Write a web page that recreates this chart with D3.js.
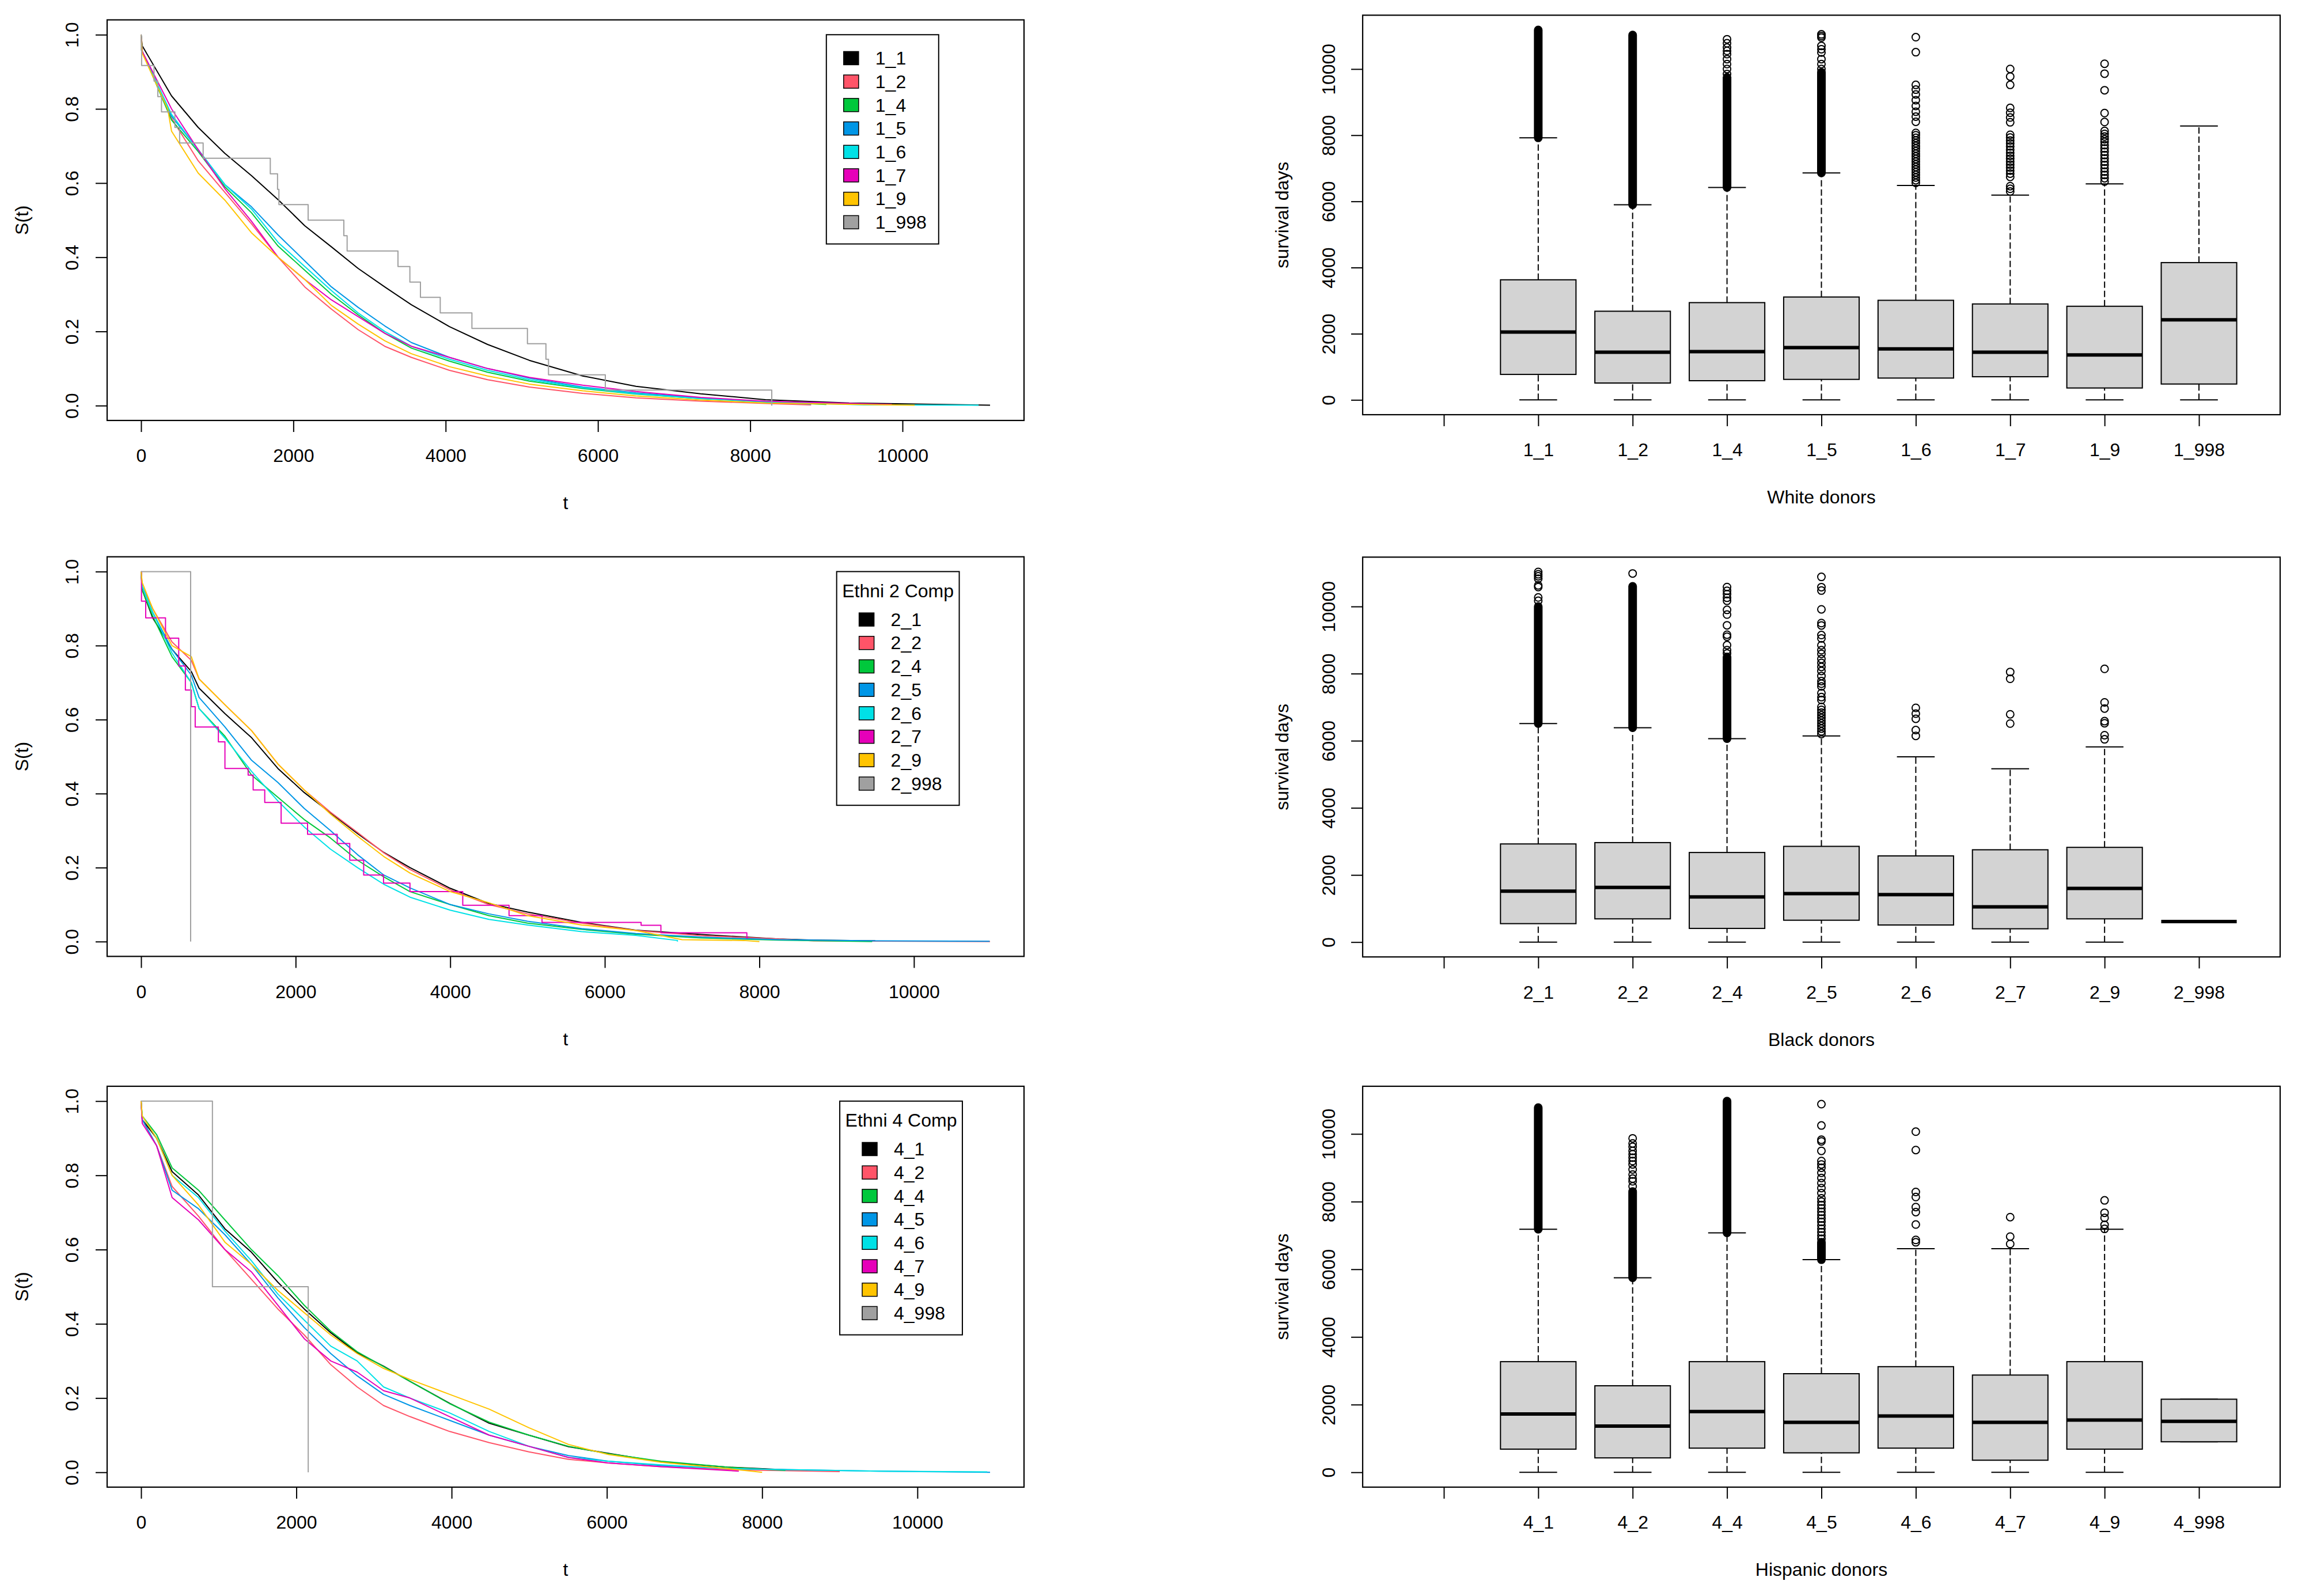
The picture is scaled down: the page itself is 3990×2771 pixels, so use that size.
<!DOCTYPE html>
<html>
<head>
	<meta charset="UTF-8">
	<script src="https://d3js.org/d3.v7.min.js"></script>
	<title>Donor survival by ethnicity</title>
	<style>
		body { margin: 0; background: #fff; }
		svg { display: block; }
	</style>
</head>
<body>
	<svg></svg>
	<script type="text/javascript">

		const width = 3990;
		const height = 2771;
		const font = '"Liberation Sans", Arial, Helvetica, sans-serif';

		const palette = ["#000000", "#FF5468", "#00C83C", "#0096E6", "#00E1E6", "#E600B9", "#FFC400", "#A0A0A0"];

		const kmTicksX = [0, 2000, 4000, 6000, 8000, 10000];
		const kmTicksY = [0, 0.2, 0.4, 0.6, 0.8, 1.0];
		const boxTicksY = [0, 2000, 4000, 6000, 8000, 10000];

		// ---- Kaplan-Meier curves, [t, S(t)] ----
		const whiteGroups = ["1_1", "1_2", "1_4", "1_5", "1_6", "1_7", "1_9", "1_998"];
		const kmWhite = [
			[[0,1],[15,0.97],[400,0.835],[750,0.75],[1100,0.68],[1450,0.62],[1800,0.555],[2150,0.485],[2500,0.428],[2850,0.37],[3200,0.32],[3550,0.272],[4050,0.213],[4550,0.165],[5100,0.122],[5800,0.08],[6500,0.052],[7350,0.032],[8200,0.016],[9300,0.007],[11150,0.001]],
			[[0,1],[15,0.955],[400,0.775],[750,0.66],[1100,0.575],[1450,0.49],[1800,0.40],[2150,0.32],[2500,0.26],[2850,0.205],[3200,0.16],[3550,0.13],[4050,0.095],[4550,0.07],[5100,0.05],[5800,0.033],[6500,0.021],[7350,0.012],[8200,0.006],[8800,0.002]],
			[[0,1],[15,0.955],[400,0.77],[750,0.685],[1100,0.59],[1450,0.52],[1800,0.43],[2150,0.365],[2500,0.30],[2850,0.245],[3200,0.195],[3550,0.155],[4050,0.12],[4550,0.09],[5100,0.066],[5800,0.046],[6500,0.031],[7350,0.019],[8200,0.01],[9000,0.003]],
			[[0,1],[15,0.955],[400,0.78],[750,0.69],[1100,0.596],[1450,0.536],[1800,0.46],[2150,0.39],[2500,0.32],[2850,0.265],[3200,0.215],[3550,0.17],[4050,0.13],[4550,0.10],[5100,0.074],[5800,0.05],[6500,0.034],[7350,0.021],[8200,0.011],[8800,0.004]],
			[[0,1],[15,0.955],[400,0.785],[750,0.69],[1100,0.596],[1450,0.53],[1800,0.44],[2150,0.375],[2500,0.31],[2850,0.25],[3200,0.20],[3550,0.16],[4050,0.125],[4550,0.095],[5100,0.07],[5800,0.048],[6500,0.032],[7350,0.019],[8200,0.01],[9500,0.002],[11000,0.001]],
			[[0,1],[15,0.955],[400,0.80],[750,0.69],[1100,0.585],[1450,0.497],[1800,0.40],[2150,0.34],[2500,0.285],[2850,0.24],[3200,0.195],[3550,0.16],[4050,0.13],[4550,0.10],[5100,0.076],[5800,0.055],[6500,0.038],[7350,0.022],[8200,0.012],[9860,0.003]],
			[[0,1],[15,0.95],[350,0.80],[400,0.74],[750,0.627],[1100,0.554],[1450,0.466],[1800,0.40],[2150,0.34],[2500,0.27],[2850,0.22],[3200,0.175],[3550,0.14],[4050,0.105],[4550,0.08],[5100,0.058],[5800,0.04],[6500,0.026],[7350,0.015],[8200,0.007],[10160,0.001]],
			[[0,1],[2,0.958],[7,0.917],[170,0.875],[220,0.833],[268,0.792],[444,0.75],[506,0.708],[815,0.667],[1697,0.625],[1792,0.583],[1810,0.542],[2194,0.5],[2663,0.458],[2706,0.417],[3374,0.375],[3530,0.333],[3669,0.292],[3929,0.25],[4345,0.208],[5074,0.167],[5317,0.125],[5351,0.083],[6097,0.042],[8283,0]]
		];
		const kmWhiteStep = [7];

		const blackGroups = ["2_1", "2_2", "2_4", "2_5", "2_6", "2_7", "2_9", "2_998"];
		const kmBlack = [
			[[0,1],[15,0.95],[150,0.875],[400,0.79],[650,0.73],[750,0.685],[1085,0.616],[1430,0.551],[1770,0.468],[2110,0.403],[2450,0.348],[2800,0.292],[3140,0.241],[3480,0.2],[4000,0.144],[4500,0.103],[5000,0.08],[5700,0.052],[6400,0.031],[7250,0.019],[8250,0.007],[8700,0.004],[9500,0.002]],
			[[0,1],[15,0.96],[150,0.9],[400,0.81],[650,0.76],[750,0.71],[1085,0.64],[1430,0.57],[1770,0.48],[2110,0.41],[2450,0.35],[2800,0.295],[3140,0.24],[3480,0.195],[4000,0.14],[4500,0.1],[5000,0.075],[5700,0.05],[6400,0.03],[7250,0.016],[8250,0.007],[8700,0.002],[10985,0.0]],
			[[0,1],[15,0.95],[150,0.88],[400,0.77],[650,0.70],[750,0.63],[1085,0.555],[1430,0.45],[1770,0.39],[2110,0.33],[2450,0.28],[2800,0.22],[3140,0.175],[3480,0.135],[4000,0.10],[4500,0.07],[5000,0.05],[5700,0.033],[6400,0.02],[7250,0.01],[8250,0.004],[9460,0.0]],
			[[0,1],[15,0.96],[150,0.89],[400,0.79],[650,0.72],[750,0.66],[1085,0.58],[1430,0.49],[1770,0.43],[2110,0.36],[2450,0.30],[2800,0.235],[3140,0.18],[3480,0.145],[4000,0.10],[4500,0.075],[5000,0.055],[5700,0.035],[6400,0.022],[7250,0.012],[8250,0.005],[9500,0.002],[10980,0.001]],
			[[0,1],[15,0.96],[150,0.89],[400,0.78],[650,0.70],[750,0.63],[1085,0.55],[1430,0.46],[1770,0.38],[2110,0.31],[2450,0.25],[2800,0.20],[3140,0.155],[3480,0.12],[4000,0.085],[4500,0.06],[5000,0.045],[5700,0.027],[6400,0.017],[6940,0.003],[6940,0]],
			[[0,1],[5,0.92],[60,0.875],[316,0.82],[487,0.745],[573,0.68],[650,0.635],[700,0.58],[1000,0.54],[1085,0.468],[1385,0.45],[1450,0.41],[1600,0.376],[1812,0.32],[2154,0.29],[2538,0.265],[2700,0.22],[2880,0.18],[3137,0.158],[3479,0.135],[4162,0.098],[4761,0.07],[5188,0.052],[6470,0.044],[6726,0.024],[7838,0.01],[7850,0.01]],
			[[0,1],[15,0.97],[150,0.9],[400,0.8],[650,0.77],[750,0.71],[1085,0.64],[1430,0.57],[1770,0.48],[2110,0.41],[2450,0.345],[2800,0.285],[3140,0.23],[3480,0.185],[4000,0.135],[4500,0.105],[5000,0.07],[5700,0.045],[6400,0.03],[7000,0.005],[7800,0.003],[8000,0]],
			[[0,1],[641,0]]
		];
		const kmBlackStep = [5, 7];

		const hispGroups = ["4_1", "4_2", "4_4", "4_5", "4_6", "4_7", "4_9", "4_998"];
		const kmHisp = [
			[[0,1],[15,0.95],[200,0.9],[400,0.81],[740,0.747],[1080,0.656],[1421,0.593],[1762,0.512],[2102,0.44],[2443,0.376],[2783,0.322],[3123,0.286],[3464,0.245],[3974,0.186],[4485,0.132],[4996,0.1],[5506,0.069],[6017,0.051],[6698,0.028],[7549,0.014],[8485,0.005]],
			[[0,1],[15,0.95],[200,0.88],[400,0.77],[740,0.69],[1080,0.6],[1421,0.52],[1762,0.44],[2102,0.37],[2443,0.29],[2783,0.23],[3123,0.18],[3464,0.15],[3974,0.11],[4485,0.08],[4996,0.055],[5506,0.035],[6017,0.025],[6698,0.015],[7549,0.007],[9000,0.002]],
			[[0,1],[15,0.96],[200,0.91],[400,0.82],[740,0.76],[1080,0.68],[1421,0.6],[1762,0.53],[2102,0.45],[2443,0.38],[2783,0.325],[3123,0.285],[3464,0.245],[3974,0.185],[4485,0.135],[4996,0.1],[5506,0.07],[6017,0.05],[6698,0.03],[7549,0.014],[8300,0.005]],
			[[0,1],[15,0.95],[200,0.88],[400,0.76],[740,0.71],[1080,0.64],[1421,0.56],[1762,0.47],[2102,0.39],[2443,0.32],[2783,0.26],[3123,0.21],[3464,0.18],[3974,0.14],[4485,0.1],[4996,0.07],[5506,0.045],[6017,0.03],[6698,0.018],[7549,0.01],[9500,0.003],[10936,0.0]],
			[[0,1],[15,0.96],[200,0.9],[400,0.8],[740,0.74],[1080,0.65],[1421,0.57],[1762,0.48],[2102,0.41],[2443,0.34],[2783,0.30],[3123,0.23],[3464,0.20],[3974,0.16],[4485,0.11],[4996,0.07],[5506,0.04],[6017,0.03],[6698,0.02],[7549,0.01],[9500,0.003],[10900,0.001]],
			[[0,1],[15,0.94],[200,0.88],[400,0.74],[740,0.68],[1080,0.6],[1421,0.54],[1762,0.45],[2102,0.36],[2443,0.30],[2783,0.27],[3123,0.22],[3464,0.20],[3974,0.15],[4485,0.10],[4996,0.07],[5506,0.04],[6017,0.025],[6698,0.015],[7549,0.005],[7700,0.003]],
			[[0,1],[15,0.96],[200,0.9],[400,0.8],[740,0.72],[1080,0.62],[1421,0.56],[1762,0.49],[2102,0.43],[2443,0.37],[2783,0.32],[3123,0.28],[3464,0.25],[3974,0.21],[4485,0.17],[4996,0.12],[5506,0.075],[6017,0.048],[6698,0.027],[7549,0.01],[8000,0.0]],
			[[0,1],[919,0.5],[2153,0]]
		];
		const kmHispStep = [7];

		// ---- box plots: [lower whisker, Q1, median, Q3, upper whisker] ----
		const whiteCats = ["", "1_1", "1_2", "1_4", "1_5", "1_6", "1_7", "1_9", "1_998"];
		const whiteStats = [
			[0, 770, 2050, 3630, 7920],
			[0, 510, 1440, 2680, 5900],
			[0, 580, 1460, 2940, 6420],
			[0, 620, 1580, 3110, 6860],
			[0, 660, 1540, 3010, 6480],
			[0, 700, 1440, 2900, 6190],
			[0, 360, 1360, 2830, 6530],
			[0, 480, 2420, 4150, 8280]
		];
		// runs of outliers so dense that they print as a solid column
		const whiteDense = [[7920, 11180], [5900, 11030], [6420, 9750], [6860, 9900], null, null, null, null];
		const whiteOutliers = [
			[],
			[],
			[9850, 10000, 10150, 10300, 10450, 10550, 10650, 10780, 10900],
			[10000, 10150, 10300, 10500, 10600, 10700, 10950, 11000, 11050],
			[6560, 6640, 6720, 6800, 6880, 6960, 7040, 7120, 7200, 7280, 7360, 7440, 7520, 7600, 7680, 7760, 7840, 7920, 8000, 8070, 8406, 8563, 8710, 8884, 9059, 9233, 9378, 9522, 10510, 10963],
			[6300, 6380, 6460, 6740, 6840, 6930, 7020, 7110, 7200, 7290, 7380, 7470, 7560, 7660, 7750, 7840, 7930, 8013, 8390, 8535, 8680, 8825, 9522, 9773, 10003],
			[6600, 6700, 6800, 6900, 7000, 7100, 7200, 7300, 7400, 7500, 7600, 7700, 7800, 7880, 7960, 8040, 8130, 8400, 8670, 9360, 9860, 10160],
			[]
		];

		const blackCats = ["", "2_1", "2_2", "2_4", "2_5", "2_6", "2_7", "2_9", "2_998"];
		const blackStats = [
			[0, 550, 1518, 2925, 6512],
			[0, 693, 1630, 2965, 6389],
			[0, 408, 1345, 2670, 6063],
			[0, 652, 1447, 2853, 6145],
			[0, 510, 1416, 2568, 5523],
			[0, 397, 1050, 2751, 5166],
			[0, 693, 1600, 2823, 5818],
			[611, 611, 611, 611, 611]
		];
		const blackDense = [[6512, 10000], [6389, 10600], [6063, 8500], null, null, null, null, null];
		const blackOutliers = [
			[10170, 10270, 10580, 10630, 10830, 10900, 10960, 11030],
			[10985],
			[8600, 8700, 8850, 9100, 9160, 9440, 9760, 9900, 10170, 10260, 10370, 10470, 10580],
			[6200, 6280, 6360, 6440, 6520, 6600, 6680, 6760, 6840, 6920, 7010, 7215, 7300, 7420, 7620, 7700, 7780, 7930, 8080, 8200, 8320, 8437, 8590, 8700, 8845, 9050, 9150, 9436, 9507, 9915, 10475, 10577, 10883],
			[6145, 6318, 6654, 6807, 6980],
			[6512, 6787, 7846, 8050],
			[6043, 6165, 6522, 6583, 6960, 7143, 8142],
			[]
		];

		const hispCats = ["", "4_1", "4_2", "4_4", "4_5", "4_6", "4_7", "4_9", "4_998"];
		const hispStats = [
			[0, 684, 1724, 3270, 7185],
			[0, 426, 1367, 2557, 5748],
			[0, 714, 1794, 3270, 7076],
			[0, 575, 1477, 2914, 6283],
			[0, 714, 1665, 3122, 6610],
			[0, 357, 1477, 2874, 6610],
			[0, 684, 1546, 3270, 7185],
			[902, 902, 1506, 2160, 2160]
		];
		const hispDense = [[7185, 10780], [5748, 8300], [7076, 10970], [6283, 6800], null, null, null, null];
		const hispOutliers = [
			[],
			[8450, 8600, 8680, 8800, 8950, 9100, 9200, 9300, 9400, 9500, 9620, 9720, 9870],
			[],
			[6900, 7000, 7100, 7200, 7300, 7400, 7500, 7600, 7700, 7800, 7900, 8000, 8100, 8250, 8400, 8550, 8700, 8850, 9000, 9100, 9200, 9500, 9780, 9830, 10250, 10880],
			[6798, 6868, 7323, 7690, 7839, 8136, 8285, 9524, 10068],
			[6749, 6967, 7541],
			[7194, 7313, 7521, 7670, 8037],
			[]
		];

		const svg = d3.select("svg")
			.attr("width", width)
			.attr("height", height)
			.attr("viewBox", [0, 0, width, height])
			.style("font-family", font);

		svg.append("rect").attr("width", width).attr("height", height).attr("fill", "#fff");

		function styleAxis(g) {
			g.select(".domain").remove();
			g.selectAll(".tick line").attr("stroke", "#000").attr("stroke-width", 2);
			g.selectAll(".tick text").attr("fill", "#000");
			g.attr("font-size", 32).attr("font-family", font);
		}

		function rotateYLabels(g, off) {
			g.selectAll(".tick text")
				.attr("transform", "rotate(-90)")
				.attr("x", 0)
				.attr("y", -off)
				.attr("dy", "0.35em")
				.attr("text-anchor", "middle");
		}

		function frame(g, box) {
			g.append("rect")
				.attr("x", box.left).attr("y", box.top)
				.attr("width", box.right - box.left).attr("height", box.bottom - box.top)
				.attr("fill", "none").attr("stroke", "#000").attr("stroke-width", 2.2);
		}

		function axisTitles(g, box, xlab, ylab, yoff) {
			g.append("text")
				.attr("x", (box.left + box.right) / 2).attr("y", box.bottom + 143)
				.attr("dy", "0.35em").attr("text-anchor", "middle").attr("font-size", 32)
				.text(xlab);
			g.append("text")
				.attr("transform", `translate(${box.left - yoff},${(box.top + box.bottom) / 2}) rotate(-90)`)
				.attr("dy", "0.35em").attr("text-anchor", "middle").attr("font-size", 32)
				.text(ylab);
		}

		function drawLegend(g, lx, ly, labels, title) {
			const lh = 40.7;
			const entriesW = 195;
			const lg = g.append("g").attr("font-size", 32);
			const bg = lg.append("rect");
			let titleW = 0, offY = 0;
			if (title) {
				const t = lg.append("text").text(title);
				titleW = t.node().getComputedTextLength();
				offY = 42.5;
			}
			const boxW = Math.max(entriesW, titleW + 19);
			const shift = (boxW - entriesW) / 2;
			bg.attr("x", lx).attr("y", ly)
				.attr("width", boxW).attr("height", lh * 9 - 3 + offY)
				.attr("fill", "#fff").attr("stroke", "#000").attr("stroke-width", 2);
			if (title) {
				lg.select("text")
					.attr("x", lx + boxW / 2).attr("y", ly + 33)
					.attr("dy", "0.35em").attr("text-anchor", "middle");
			}
			labels.forEach((d, i) => {
				const cy = ly + offY + lh * (i + 1);
				lg.append("rect")
					.attr("x", lx + 30 + shift).attr("y", cy - 11.5)
					.attr("width", 26).attr("height", 23)
					.attr("fill", palette[i]).attr("stroke", "#000").attr("stroke-width", 1.5);
				lg.append("text")
					.attr("x", lx + 85 + shift).attr("y", cy)
					.attr("dy", "0.35em")
					.text(d);
			});
		}

		function drawKM(box, curves, groups, steps, title) {
			const g = svg.append("g");
			const tmax = d3.max(curves.flat(), d => d[0]);
			const x = d3.scaleLinear().domain([-0.04 * tmax, 1.04 * tmax]).range([box.left, box.right]);
			const y = d3.scaleLinear().domain([-0.04, 1.04]).range([box.bottom, box.top]);

			g.append("g")
				.attr("transform", `translate(0,${box.bottom})`)
				.call(d3.axisBottom(x).tickValues(kmTicksX).tickSize(20).tickFormat(d3.format("d")))
				.call(styleAxis)
				.call(a => a.selectAll(".tick text").attr("y", 61).attr("dy", "0.35em"));

			g.append("g")
				.attr("transform", `translate(${box.left},0)`)
				.call(d3.axisLeft(y).tickValues(kmTicksY).tickSize(20).tickFormat(d3.format(".1f")))
				.call(styleAxis)
				.call(a => rotateYLabels(a, 61));

			const line = d3.line().x(d => x(d[0])).y(d => y(d[1]));
			const stepLine = d3.line().x(d => x(d[0])).y(d => y(d[1])).curve(d3.curveStepAfter);

			g.append("g")
				.attr("fill", "none")
				.attr("stroke-width", 2)
				.attr("stroke-linejoin", "round")
				.selectAll("path")
				.data(curves)
				.join("path")
					.attr("stroke", (d, i) => palette[i])
					.attr("d", (d, i) => steps.includes(i) ? stepLine(d) : line(d));

			frame(g, box);
			axisTitles(g, box, "t", "S(t)", 148);
			drawLegend(g, x(9000), y(1.0), groups, title);
		}

		function drawBox(box, cats, stats, dense, outliers, xlab) {
			const g = svg.append("g");
			const n = cats.length;
			const x = d3.scaleLinear().domain([0.5 - 0.04 * n, n + 0.5 + 0.04 * n]).range([box.left, box.right]);
			const top = d3.max([
				d3.max(stats.flat()),
				d3.max(outliers.flat()) || 0,
				d3.max(dense.filter(d => d).flat())
			]);
			const y = d3.scaleLinear().domain([-0.04 * top, 1.04 * top]).range([box.bottom, box.top]);
			const half = x(1.4) - x(1);
			const staple = x(1.2) - x(1);

			g.append("g")
				.attr("transform", `translate(0,${box.bottom})`)
				.call(d3.axisBottom(x).tickValues(d3.range(1, n + 1)).tickSize(20).tickFormat(i => cats[i - 1]))
				.call(styleAxis)
				.call(a => a.selectAll(".tick text").attr("y", 61).attr("dy", "0.35em"));

			g.append("g")
				.attr("transform", `translate(${box.left},0)`)
				.call(d3.axisLeft(y).tickValues(boxTicksY).tickSize(20).tickFormat(d3.format("d")))
				.call(styleAxis)
				.call(a => rotateYLabels(a, 59));

			const grp = g.selectAll(".grp")
				.data(stats)
				.join("g")
					.attr("class", "grp")
					.attr("transform", (d, i) => `translate(${x(i + 2)},0)`);

			// whiskers
			grp.selectAll(".wh")
				.data(d => [[d[0], d[1]], [d[3], d[4]]])
				.join("line")
					.attr("y1", d => y(d[0])).attr("y2", d => y(d[1]))
					.attr("stroke", "#000").attr("stroke-width", 2)
					.attr("stroke-dasharray", "11,5");

			// staples
			grp.selectAll(".st")
				.data(d => [d[0], d[4]])
				.join("line")
					.attr("x1", -staple).attr("x2", staple)
					.attr("y1", d => y(d)).attr("y2", d => y(d))
					.attr("stroke", "#000").attr("stroke-width", 2);

			grp.append("rect")
				.attr("x", -half).attr("width", 2 * half)
				.attr("y", d => y(d[3])).attr("height", d => y(d[1]) - y(d[3]))
				.attr("fill", "#D3D3D3").attr("stroke", "#000").attr("stroke-width", 2);

			grp.append("line")
				.attr("x1", -half).attr("x2", half)
				.attr("y1", d => y(d[2])).attr("y2", d => y(d[2]))
				.attr("stroke", "#000").attr("stroke-width", 6);

			// solid runs of overlapping outlier circles
			g.selectAll(".dense")
				.data(dense.map((d, i) => d ? {i, d} : null).filter(d => d))
				.join("line")
					.attr("x1", d => x(d.i + 2)).attr("x2", d => x(d.i + 2))
					.attr("y1", d => y(d.d[0])).attr("y2", d => y(d.d[1]))
					.attr("stroke", "#000").attr("stroke-width", 15).attr("stroke-linecap", "round");

			g.selectAll(".out")
				.data(outliers.flatMap((arr, i) => arr.map(v => ({i, v}))))
				.join("circle")
					.attr("cx", d => x(d.i + 2))
					.attr("cy", d => y(d.v))
					.attr("r", 6.5)
					.attr("fill", "none").attr("stroke", "#000").attr("stroke-width", 2);

			frame(g, box);
			axisTitles(g, box, xlab, "survival days", 140);
		}

		const kmLeft = 186, kmRight = 1778;
		const bxLeft = 2366, bxRight = 3959;

		drawKM({left: kmLeft, right: kmRight, top: 34.5, bottom: 730}, kmWhite, whiteGroups, kmWhiteStep, null);
		drawKM({left: kmLeft, right: kmRight, top: 966.7, bottom: 1660.5}, kmBlack, blackGroups, kmBlackStep, "Ethni 2 Comp");
		drawKM({left: kmLeft, right: kmRight, top: 1886, bottom: 2582}, kmHisp, hispGroups, kmHispStep, "Ethni 4 Comp");

		drawBox({left: bxLeft, right: bxRight, top: 26.4, bottom: 720}, whiteCats, whiteStats, whiteDense, whiteOutliers, "White donors");
		drawBox({left: bxLeft, right: bxRight, top: 967.3, bottom: 1661.4}, blackCats, blackStats, blackDense, blackOutliers, "Black donors");
		drawBox({left: bxLeft, right: bxRight, top: 1886, bottom: 2582}, hispCats, hispStats, hispDense, hispOutliers, "Hispanic donors");

	</script>
</body>
</html>
